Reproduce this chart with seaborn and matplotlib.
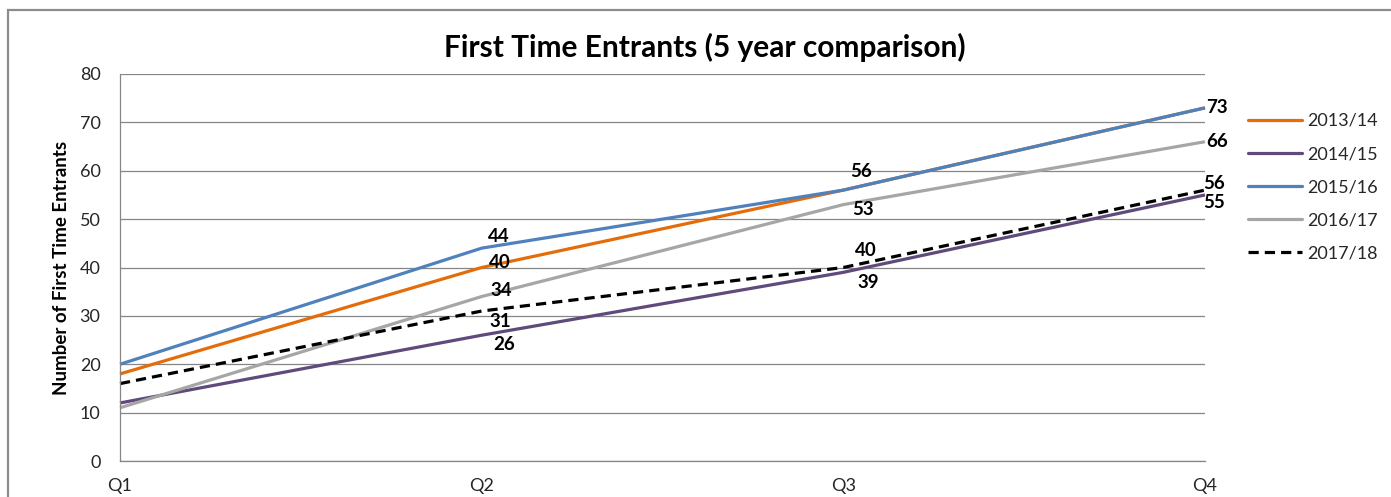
import matplotlib
matplotlib.use("Agg")
import matplotlib.pyplot as plt
from matplotlib.lines import Line2D
from matplotlib.patches import Rectangle
import numpy as np
import pandas as pd
import seaborn as sns

# ---- data -------------------------------------------------------------
quarters = ["Q1", "Q2", "Q3", "Q4"]
seasons = ["2013/14", "2014/15", "2015/16", "2016/17", "2017/18"]
v_2013_14 = [18, 40, 56, 73]
v_2014_15 = [12, 26, 39, 55]
v_2015_16 = [20, 44, 56, 73]
v_2016_17 = [11, 34, 53, 66]
v_2017_18 = [16, 31, 40, 56]
series_values = [v_2013_14, v_2014_15, v_2015_16, v_2016_17, v_2017_18]

y_ticks = [0, 10, 20, 30, 40, 50, 60, 70, 80]

# ---- styling ----------------------------------------------------------
colors = {
    "2013/14": "#E46C0A",
    "2014/15": "#604A7B",
    "2015/16": "#4F81BD",
    "2016/17": "#A6A6A6",
    "2017/18": "#000000",
}
dash_styles = {
    "2013/14": "",
    "2014/15": "",
    "2015/16": "",
    "2016/17": "",
    "2017/18": (3.2, 1.9),
}
# value labels: (season, quarter index) -> offset of label centre in pixels
label_offsets = {
    ("2015/16", 1): (17, 12),
    ("2013/14", 1): (18, 5),
    ("2016/17", 1): (20, 6),
    ("2017/18", 1): (19, -10),
    ("2014/15", 1): (22, -9),
    ("2015/16", 2): (18, 19),
    ("2016/17", 2): (20, -5),
    ("2017/18", 2): (23, 17),
    ("2014/15", 2): (25, -10),
    ("2015/16", 3): (12, 0),
    ("2016/17", 3): (12, 0),
    ("2017/18", 3): (9, 7),
    ("2014/15", 3): (9, -8),
}

sns.set_theme(style="white")
plt.rcParams["font.family"] = ["Lato", "DejaVu Sans"]
grid_color = "#868686"

rows = []
for season, vals in zip(seasons, series_values):
    for qi, (q, v) in enumerate(zip(quarters, vals)):
        rows.append({"season": season, "qidx": qi, "quarter": q, "value": v})
df = pd.DataFrame(rows)

W, H, DPI = 1391, 497, 100
fig = plt.figure(figsize=(W / DPI, H / DPI), dpi=DPI)
ax = fig.add_axes([120 / W, 36 / H, (1205 - 120) / W, (461 - 74) / H])

sns.lineplot(
    data=df, x="qidx", y="value", hue="season", style="season",
    hue_order=seasons, style_order=seasons,
    palette=colors, dashes=dash_styles, linewidth=2.3,
    legend=False, ax=ax, sort=False,
)
for ln in ax.get_lines():
    ln.set_clip_on(False)
    ln.set_solid_capstyle("butt")
    ln.set_dash_capstyle("butt")

ax.set_xlim(0, 3)
ax.set_ylim(0, 80)
ax.set_xticks(range(len(quarters)))
ax.set_xticklabels(quarters)
ax.set_yticks(y_ticks)
ax.tick_params(axis="both", length=0, labelsize=13, colors="#262626")
ax.tick_params(axis="x", pad=12)
ax.tick_params(axis="y", pad=14)
ax.yaxis.grid(True, color=grid_color, linewidth=0.9)
ax.set_axisbelow(True)
for side in ["top", "right"]:
    ax.spines[side].set_visible(False)
for side in ["left", "bottom"]:
    ax.spines[side].set_color(grid_color)
    ax.spines[side].set_linewidth(0.9)

ax.set_xlabel("")
ax.set_ylabel("Number of First Time Entrants", fontsize=13.5, fontweight="bold",
              color="#000000", labelpad=7)

# value labels
px2pt = 72 / DPI
for (season, qi), (dx, dy) in label_offsets.items():
    val = series_values[seasons.index(season)][qi]
    ax.annotate(
        f"{val}", xy=(qi, val), xytext=(dx * px2pt, dy * px2pt),
        textcoords="offset points", ha="center", va="center",
        fontsize=13.5, fontweight="bold", color="#000000",
        annotation_clip=False,
    )

fig.text(705 / W, 1 - 47 / H, "First Time Entrants (5 year comparison)",
         ha="center", va="center", fontsize=21.5, fontweight="bold", color="#000000")

# legend
handles = [
    Line2D([0], [0], color=colors[s], linewidth=2.3,
           linestyle=(0, dash_styles[s]) if dash_styles[s] else "-")
    for s in seasons
]
leg = fig.legend(
    handles, seasons, loc="upper left",
    bbox_to_anchor=(1248 / W, 1 - 113 / H), frameon=False,
    fontsize=13, handlelength=3.0, handletextpad=0.3, labelspacing=0.95,
    borderaxespad=0, borderpad=0,
)
for t in leg.get_texts():
    t.set_color("#262626")

# chart frame
fig.patches.append(Rectangle((8 / W, -0.1), 1.2, 1 - 10 / H + 0.1,
                             transform=fig.transFigure, fill=False,
                             edgecolor="#8C8C8C", linewidth=1.6))

fig.savefig("out.png", dpi=DPI, facecolor="white")
